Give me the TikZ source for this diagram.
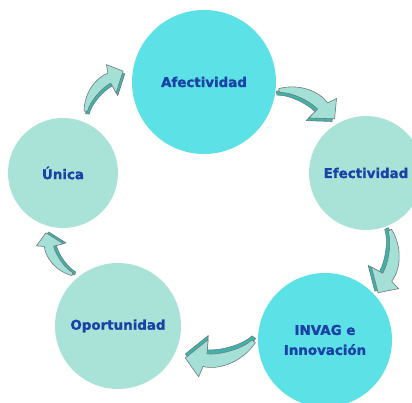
\documentclass[tikz,border=0pt]{standalone}
\usepackage{fontspec}
\setmainfont{DejaVu Sans}[BoldFeatures={FakeBold=1.4}]
\usetikzlibrary{calc}

\definecolor{hotfill}{HTML}{5CE1E6}
\definecolor{coolfill}{HTML}{A9E3D8}
\definecolor{ink}{HTML}{1A42A6}
\definecolor{arrowlight}{HTML}{A4E0D6}
\definecolor{arrowdark}{HTML}{3DB3AC}
\definecolor{arrowedge}{HTML}{6E7A7A}

\tikzset{
  stage/.style={circle, inner sep=0pt, minimum size=#1, text=ink,
    font=\bfseries\fontsize{13.4}{20}\selectfont, align=center},
  hot/.style={fill=hotfill},
  cool/.style={fill=coolfill},
  arrowskin/.style={draw=arrowedge, line width=0.6pt, line join=round},
  % curved block arrow: tail at the origin, tip at (63.5,0), turning right
  pics/carrow/.style={code={
    \path[arrowskin, fill=arrowdark, shift={(-1,-3.5)}]
      (0,1.5) -- (2.5,-1.5) .. controls (12,4) and (32,5) .. (44,1)
      -- (40,-11) -- (63.5,0) -- (56,19) -- (50,11)
      .. controls (38,17.5) and (16,16) .. (0,1.5) -- cycle;
    \path[arrowskin, fill=arrowlight]
      (0,1.5) -- (2.5,-1.5) .. controls (12,4) and (32,5) .. (44,1)
      -- (40,-11) -- (63.5,0) -- (56,19) -- (50,11)
      .. controls (38,17.5) and (16,16) .. (0,1.5) -- cycle;
  }}
}

\begin{document}
\begin{tikzpicture}[x=1pt, y=1pt]
  \useasboundingbox (0,0) rectangle (412,-403);
  \fill[white] (0,0) rectangle (412,-403);
  \clip (0,0) rectangle (412,-403);

  % the five stages
  \node[stage=144pt, hot]  (afect) at (204,-82)  {Afectividad};
  \node[stage=114pt, cool] (efect) at (366,-173) {Efectividad};
  \node[stage=134pt, hot]  (invag) at (325,-340) {INVAG e\\Innovación};
  \node[stage=126pt, cool] (oport) at (118,-326) {Oportunidad};
  \node[stage=110pt, cool] (unica) at (63,-173)  {Única};

  % tails of the curved arrows between stages
  \coordinate (u2a) at (85,-112);
  \coordinate (a2e) at (278,-90);
  \coordinate (e2i) at (390,-229);
  \coordinate (i2o) at (255,-341);
  \coordinate (o2u) at (73,-275);

  \pic[rotate=47,     scale=0.88] at (u2a) {carrow};
  \pic[rotate=-27,    scale=1.00] at (a2e) {carrow};
  \pic[rotate=-100.6, scale=1.02] at (e2i) {carrow};
  \pic[rotate=193.7,  scale=1.13] at (i2o) {carrow};
  \pic[rotate=122.7,  scale=0.79] at (o2u) {carrow};
\end{tikzpicture}
\end{document}
